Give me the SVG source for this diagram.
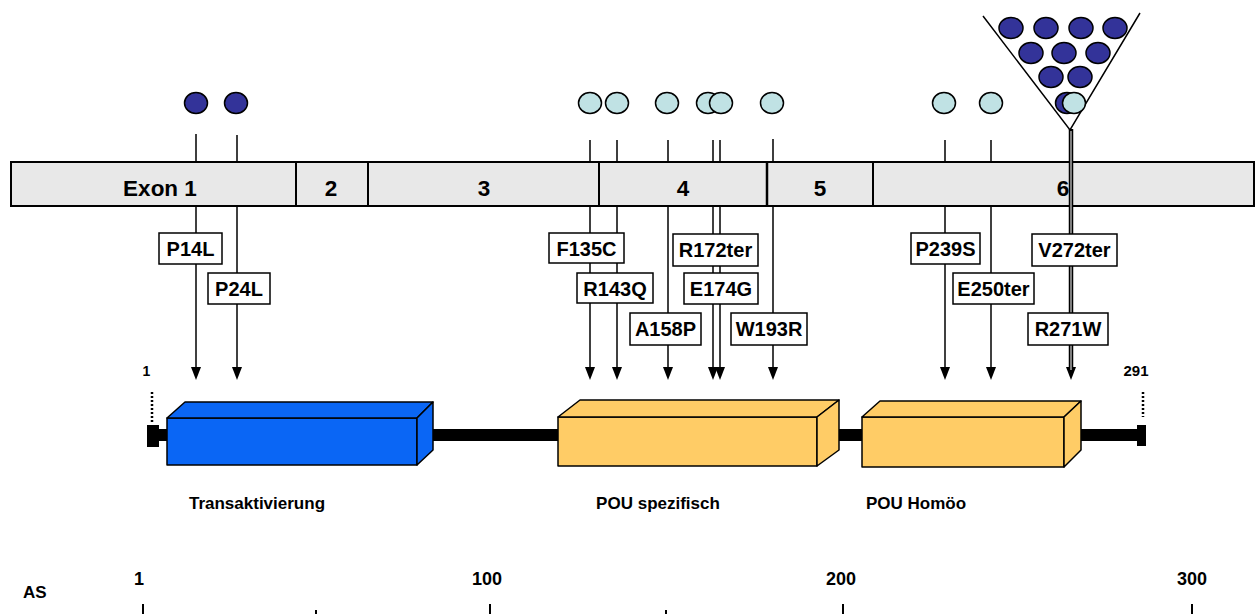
<svg xmlns="http://www.w3.org/2000/svg" width="1256" height="614" viewBox="0 0 1256 614">
<style>
text{font-family:"Liberation Sans",Arial,sans-serif;font-weight:bold;fill:#000}
.ex{font-size:22.5px;text-anchor:middle}
.lb{font-size:20px;text-anchor:middle}
.dm{font-size:17px;text-anchor:middle}
.ax{font-size:18px;text-anchor:middle}
.dk{fill:#333399;stroke:#000;stroke-width:1.5}
.lt{fill:#c0e2e4;stroke:#000;stroke-width:1.5}
.box{fill:#fff;stroke:#000;stroke-width:1.5}
.ln{stroke:#000;stroke-width:1.5;fill:none}
.arr{stroke:#000;stroke-width:1.5;fill:none;marker-end:url(#ah)}
.blue{fill:#0a66f5;stroke:#000;stroke-width:1.5;stroke-linejoin:round}
.yel{fill:#ffcc66;stroke:#000;stroke-width:1.5;stroke-linejoin:round}
</style>
<defs>
<marker id="ah" markerUnits="userSpaceOnUse" markerWidth="13" markerHeight="11" refX="5" refY="5" orient="auto">
<path d="M0,0 L13,5 L0,10 z" fill="#000"/>
</marker>
</defs>

<g id="exon-bar">
<rect x="11" y="162" width="1243" height="44" fill="#e8e8e8" stroke="#000" stroke-width="2"/>
<path d="M296,162V206M368,162V206M599,162V206M873,162V206" stroke="#000" stroke-width="2"/>
<path d="M767,162V206" stroke="#000" stroke-width="2.5"/>
<text class="ex" x="160" y="196">Exon 1</text>
<text class="ex" x="331" y="196">2</text>
<text class="ex" x="484" y="196">3</text>
<text class="ex" x="683" y="196">4</text>
<text class="ex" x="820" y="196">5</text>
<text class="ex" x="1063" y="196">6</text>
</g>

<g id="connectors">
<path class="ln" d="M196,134V162M237,135V162M590,140V162M617,140V162M668,140V162M713,140V162M720,140V162M773,139V162M945,140V162M991,140V162"/>
<path class="arr" d="M196,206V372"/>
<path class="arr" d="M237,206V372"/>
<path class="arr" d="M590,206V372"/>
<path class="arr" d="M617,206V372"/>
<path class="arr" d="M668,206V372"/>
<path class="arr" d="M713,206V372"/>
<path class="arr" d="M720,206V372"/>
<path class="arr" d="M773,206V372"/>
<path class="arr" d="M945,206V372"/>
<path class="arr" d="M991,206V372"/>
<path d="M1071,129V372" stroke="#000" stroke-width="4.5" fill="none" marker-end="url(#ah)"/>
<path d="M1071,131V370" stroke="#aaa" stroke-width="1.5" fill="none"/>
<path class="ln" d="M983,16L1070,130L1140,13"/>
</g>

<g id="dots">
<ellipse class="dk" cx="196" cy="103" rx="11.5" ry="10.5"/>
<ellipse class="dk" cx="236" cy="103" rx="11.5" ry="10.5"/>
<ellipse class="lt" cx="590" cy="103" rx="11.5" ry="10.5"/>
<ellipse class="lt" cx="617" cy="103" rx="11.5" ry="10.5"/>
<ellipse class="lt" cx="667" cy="103" rx="11.5" ry="10.5"/>
<ellipse class="lt" cx="708" cy="103" rx="11.5" ry="10.5"/>
<ellipse class="lt" cx="721" cy="103" rx="11.5" ry="10.5"/>
<ellipse class="lt" cx="772" cy="103" rx="11.5" ry="10.5"/>
<ellipse class="lt" cx="944" cy="103" rx="11.5" ry="10.5"/>
<ellipse class="lt" cx="991" cy="103" rx="11.5" ry="10.5"/>
<ellipse class="dk" cx="1011" cy="28" rx="12" ry="10.5"/>
<ellipse class="dk" cx="1046" cy="28" rx="12" ry="10.5"/>
<ellipse class="dk" cx="1081" cy="28" rx="12" ry="10.5"/>
<ellipse class="dk" cx="1115" cy="28" rx="12" ry="10.5"/>
<ellipse class="dk" cx="1031" cy="53" rx="12" ry="10.5"/>
<ellipse class="dk" cx="1064" cy="53" rx="12" ry="10.5"/>
<ellipse class="dk" cx="1098" cy="53" rx="12" ry="10.5"/>
<ellipse class="dk" cx="1051" cy="77" rx="12" ry="10.5"/>
<ellipse class="dk" cx="1080" cy="77" rx="12" ry="10.5"/>
<ellipse class="dk" cx="1067" cy="103" rx="11.5" ry="10.5"/>
<ellipse class="lt" cx="1074" cy="103" rx="11.5" ry="10.5"/>
</g>

<g id="mut-P14L"><rect class="box" x="159" y="233" width="63" height="31"/><text class="lb" x="190.5" y="256">P14L</text></g>
<g id="mut-P24L"><rect class="box" x="208" y="273" width="62" height="31"/><text class="lb" x="239" y="296">P24L</text></g>
<g id="mut-F135C"><rect class="box" x="549" y="233" width="75" height="30"/><text class="lb" x="586.5" y="255.5">F135C</text></g>
<g id="mut-R143Q"><rect class="box" x="577" y="273" width="76" height="30"/><text class="lb" x="615" y="295.5">R143Q</text></g>
<g id="mut-A158P"><rect class="box" x="630" y="313" width="71" height="32"/><text class="lb" x="665.5" y="336">A158P</text></g>
<g id="mut-R172ter"><rect class="box" x="673" y="234" width="85" height="32"/><text class="lb" x="715.5" y="257">R172ter</text></g>
<g id="mut-E174G"><rect class="box" x="684" y="273" width="74" height="31"/><text class="lb" x="721" y="296">E174G</text></g>
<g id="mut-W193R"><rect class="box" x="731" y="313" width="76" height="32"/><text class="lb" x="769" y="336">W193R</text></g>
<g id="mut-P239S"><rect class="box" x="911" y="233" width="69" height="31"/><text class="lb" x="945.5" y="256">P239S</text></g>
<g id="mut-E250ter"><rect class="box" x="953" y="273" width="81" height="31"/><text class="lb" x="993.5" y="296">E250ter</text></g>
<g id="mut-V272ter"><rect class="box" x="1032" y="234" width="85" height="32"/><text class="lb" x="1074.5" y="257">V272ter</text></g>
<g id="mut-R271W"><rect class="box" x="1028" y="313" width="80" height="32"/><text class="lb" x="1068" y="336">R271W</text></g>

<g id="protein">
<rect x="159" y="429" width="978" height="12" fill="#000"/>
<rect x="147" y="425" width="12" height="22" fill="#000"/>
<rect x="1137" y="425" width="9" height="21" fill="#000"/>
<path d="M152,392V423M1143,392V417" stroke="#000" stroke-width="2.5" stroke-dasharray="2,2"/>
<text x="146.5" y="376" style="font-size:14px;text-anchor:middle">1</text>
<text x="1136" y="376" style="font-size:15px;text-anchor:middle">291</text>
</g>

<g id="domain-transaktivierung">
<rect class="blue" x="167" y="418" width="250" height="47"/>
<path class="blue" d="M167,418L185,402H433L417,418z"/>
<path class="blue" d="M417,418L433,402V450L417,465z"/>
<text class="dm" x="257" y="509">Transaktivierung</text>
</g>

<g id="domain-pou-spezifisch">
<rect class="yel" x="558" y="417" width="259" height="49"/>
<path class="yel" d="M558,417L580,400H839L817,417z"/>
<path class="yel" d="M817,417L839,400V450L817,466z"/>
<text class="dm" x="658" y="509">POU spezifisch</text>
</g>

<g id="domain-pou-homoeo">
<rect class="yel" x="862" y="417" width="202" height="50"/>
<path class="yel" d="M862,417L880,401H1081L1064,417z"/>
<path class="yel" d="M1064,417L1081,401V450L1064,467z"/>
<text class="dm" x="916" y="509">POU Homöo</text>
</g>

<g id="axis">
<text x="23" y="598" style="font-size:17px">AS</text>
<text class="ax" x="139" y="585">1</text>
<text class="ax" x="487" y="585">100</text>
<text class="ax" x="841" y="585">200</text>
<text class="ax" x="1192" y="585">300</text>
<path d="M143,604V614M490,604V614M843,604V614M1192,604V614M316,610V614M666,610V614" stroke="#000" stroke-width="2"/>
</g>
</svg>
